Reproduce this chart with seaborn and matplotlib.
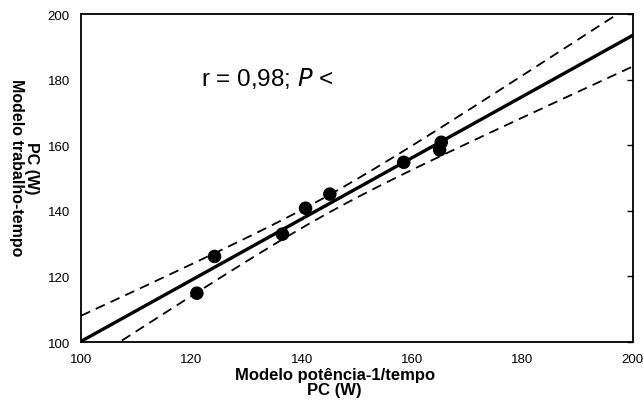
import numpy as np
import pandas as pd
import matplotlib
matplotlib.use("Agg")
import matplotlib.pyplot as plt
import seaborn as sns

# PC (W), potência-1/tempo vs trabalho-tempo
pc_potencia = [121.0, 124.2, 136.5, 140.7, 145.1, 158.5, 165.3, 165.0]
pc_trabalho = [114.9, 126.1, 132.9, 140.8, 145.1, 154.8, 160.9, 158.6]
ticks = [100, 120, 140, 160, 180, 200]

sns.set_style("white")
plt.rcParams['font.family'] = ['Liberation Sans', 'DejaVu Sans']
plt.rcParams['text.color'] = 'black'
plt.rcParams['axes.labelcolor'] = 'black'
plt.rcParams['xtick.color'] = 'black'
plt.rcParams['ytick.color'] = 'black'

df = pd.DataFrame({"x": pc_potencia, "y": pc_trabalho})

fig = plt.figure(figsize=(6.43, 4.06), dpi=100)
ax = fig.add_axes([0.126, 0.155, 0.858, 0.808])
ax.set_xlim(100, 200)
ax.set_ylim(100, 200)

sns.regplot(data=df, x="x", y="y", ax=ax, ci=None, truncate=False,
            scatter_kws={"s": 95, "color": "black", "alpha": 1, "edgecolor": "none", "zorder": 3},
            line_kws={"color": "black", "lw": 2.4})

# 95% confidence band of the regression, drawn as dashed lines
x = np.array(pc_potencia)
y = np.array(pc_trabalho)
n = len(x)
b, a = np.polyfit(x, y, 1)
resid = y - (a + b * x)
s = np.sqrt(np.sum(resid ** 2) / (n - 2))
sxx = np.sum((x - x.mean()) ** 2)
xs = np.linspace(100, 200, 200)
half = 2.4469 * s * np.sqrt(1 / n + (xs - x.mean()) ** 2 / sxx)
ax.plot(xs, a + b * xs + half, color="black", lw=1.3, ls=(0, (5.5, 3.5)))
ax.plot(xs, a + b * xs - half, color="black", lw=1.3, ls=(0, (5.5, 3.5)))

ax.set_xticks(ticks)
ax.set_yticks(ticks)
ax.tick_params(axis="both", labelsize=9.5, pad=8, length=0)
ax.tick_params(axis="y", left=False, right=True, direction="in", length=4, width=1)

for sp in ax.spines.values():
    sp.set_color("black")
    sp.set_linewidth(1.3)

ax.set_xlabel("Modelo potência-1/tempo\nPC (W)", fontsize=12, fontweight="bold", linespacing=1.0)
ax.set_ylabel("PC (W)\nModelo trabalho-tempo", fontsize=11.5, fontweight="bold", linespacing=1.0,
              rotation=270, ha="center", va="center")
ax.xaxis.set_label_coords(0.46, -0.075, transform=ax.transAxes)
ax.xaxis.label.set_va("top")
ax.yaxis.set_label_coords(-0.104, 0.534)

ax.text(0.218, 0.805, "r = 0,98; $\\it{P}$ <", transform=ax.transAxes, fontsize=17.5, va="center")

plt.savefig("out.png", dpi=100)
